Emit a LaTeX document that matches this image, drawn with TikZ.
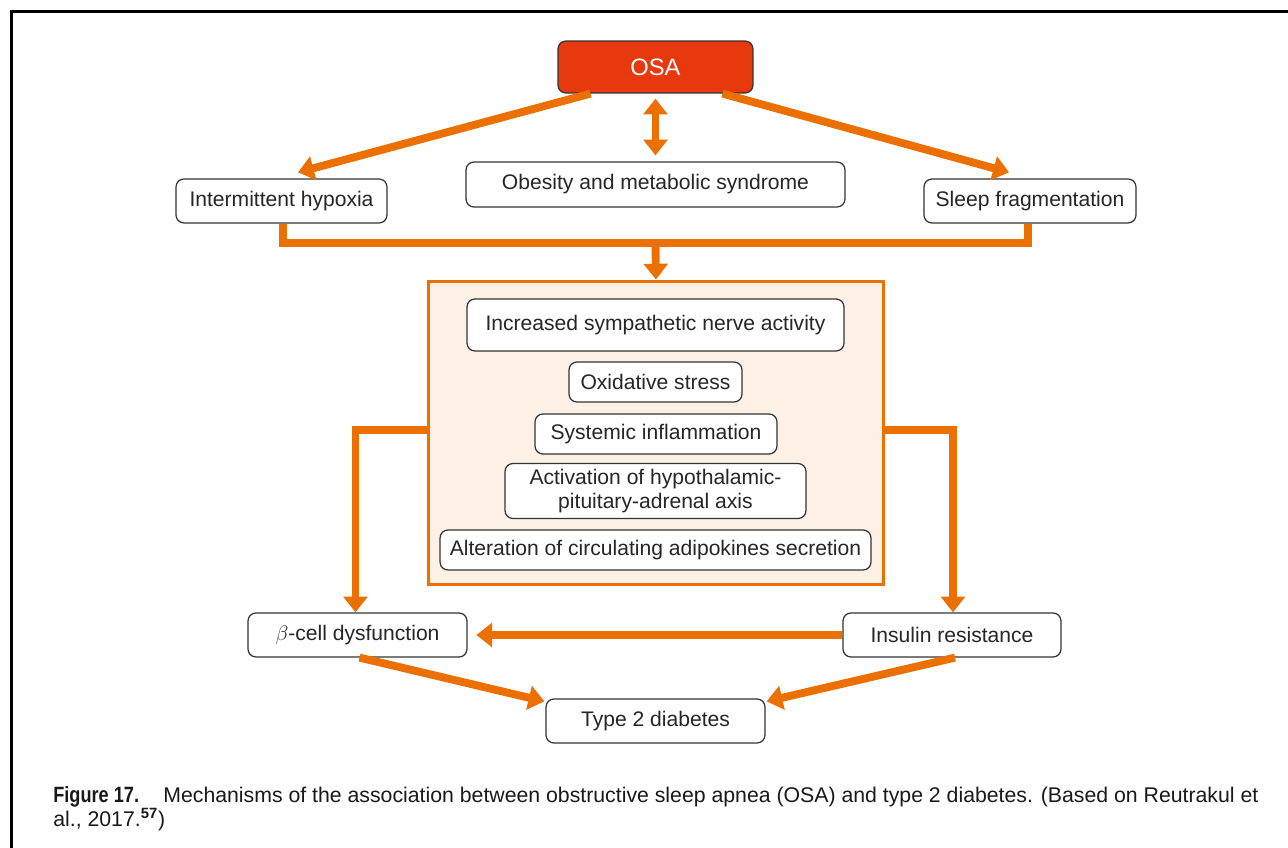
\documentclass[tikz,border=0pt]{standalone}
\usepackage{fontspec}
\usepackage{graphicx}
\setmainfont{Liberation Sans}
\usetikzlibrary{arrows.meta,calc}
\definecolor{org}{RGB}{236,112,0}
\definecolor{osared}{RGB}{232,56,14}
\definecolor{cream}{RGB}{253,241,229}
\begin{document}
\begin{tikzpicture}[x=0.02cm,y=-0.02cm,
 box/.style={draw=black!80, line width=0.7pt, rounded corners=4.5pt, fill=white,
   font=\fontsize{12}{13.5}\selectfont, text=black!85, align=center, inner sep=0pt},
 conn/.style={draw=org, line width=4.5pt},
 arr/.style={conn, -{Triangle[width=13.5pt,length=9pt]}},
 darr/.style={conn, {Triangle[width=13.5pt,length=9pt]}-{Triangle[width=13.5pt,length=9pt]}},
 captxt/.style={anchor=base west, inner sep=0pt, font=\fontsize{12.1}{14}\selectfont, text=black!90}]
\useasboundingbox (0,0) rectangle (1288,848);
\draw[line width=1.7pt] (11.5,848) -- (11.5,11.5) -- (1288,11.5);

\node[box, fill=osared, text=white, font=\fontsize{13.5}{15}\selectfont,
  minimum width=3.9cm, minimum height=1.04cm] (osa) at (655.5,67) {OSA};
\node[box, minimum width=4.22cm, minimum height=0.88cm] (ih) at (281.5,201) {Intermittent hypoxia};
\node[box, minimum width=7.58cm, minimum height=0.9cm] (ob) at (655.5,184.5) {Obesity and metabolic syndrome};
\node[box, minimum width=4.24cm, minimum height=0.88cm] (sf) at (1030,201) {Sleep fragmentation};

\node[draw=org, line width=1.7pt, fill=cream, minimum width=9.12cm, minimum height=6.08cm,
  inner sep=0pt] (big) at (656,433) {};
\node[box, minimum width=7.54cm, minimum height=1.04cm] (isn) at (655.5,325) {Increased sympathetic nerve activity};
\node[box, minimum width=3.46cm, minimum height=0.8cm] (ox) at (655.5,382) {Oxidative stress};
\node[box, minimum width=4.84cm, minimum height=0.8cm] (si) at (656,434) {Systemic inflammation};
\node[box, minimum width=6.02cm, minimum height=1.1cm] (hpa) at (655.5,491) {Activation of hypothalamic-\\pituitary-adrenal axis};
\node[box, minimum width=8.62cm, minimum height=0.8cm] (adi) at (655.5,550) {Alteration of circulating adipokines secretion};

\node[box, minimum width=4.38cm, minimum height=0.88cm] (beta) at (357.5,635) {$\beta$-cell dysfunction};
\node[box, minimum width=4.36cm, minimum height=0.88cm] (ins) at (952,635) {Insulin resistance};
\node[box, minimum width=4.38cm, minimum height=0.88cm] (t2) at (655.5,721) {Type 2 diabetes};

% connectors
\draw[arr] ($(osa.south)+(-65,0)$) -- ($(ih.north)+(16.5,-6)$);
\draw[arr] ($(osa.south)+(67,0)$) -- ($(sf.north)+(-21,-6)$);
\draw[darr] ($(osa.south)+(0,5)$) -- ($(ob.north)+(0,-6)$);

\coordinate (busm) at (655.5,243);
\draw[conn] ($(ih.south)+(1.5,0)$) |- (busm) -| ($(sf.south)+(-2,0)$);
\draw[arr] (busm) -- (big.north);

\draw[arr] ($(big.west)+(0,-3)$) -| ($(beta.north)+(-2,0)$);
\draw[arr] ($(big.east)+(0,-3)$) -| ($(ins.north)+(1,0)$);
\draw[arr, shorten >=5] (ins.west) -- (beta.east);

\draw[arr] ($(beta.south)+(2,0)$) -- ($(t2.north west)+(-1,3)$);
\draw[arr] ($(ins.south)+(3,0)$) -- ($(t2.north east)+(1,3)$);

% caption
\node[captxt] (cap0) at (53,802) {\scalebox{0.82}[1]{\fontsize{12.6}{14}\selectfont\bfseries Figure 17.}};
\node[captxt] (cap1) at (163,802)
  {Mechanisms of the association between obstructive sleep apnea (OSA) and type 2 diabetes. (Based on Reutrakul et};
\node[captxt] (cap2) at (53,826)
  {al., 2017.\textsuperscript{\textbf{57}})};
\end{tikzpicture}
\end{document}
